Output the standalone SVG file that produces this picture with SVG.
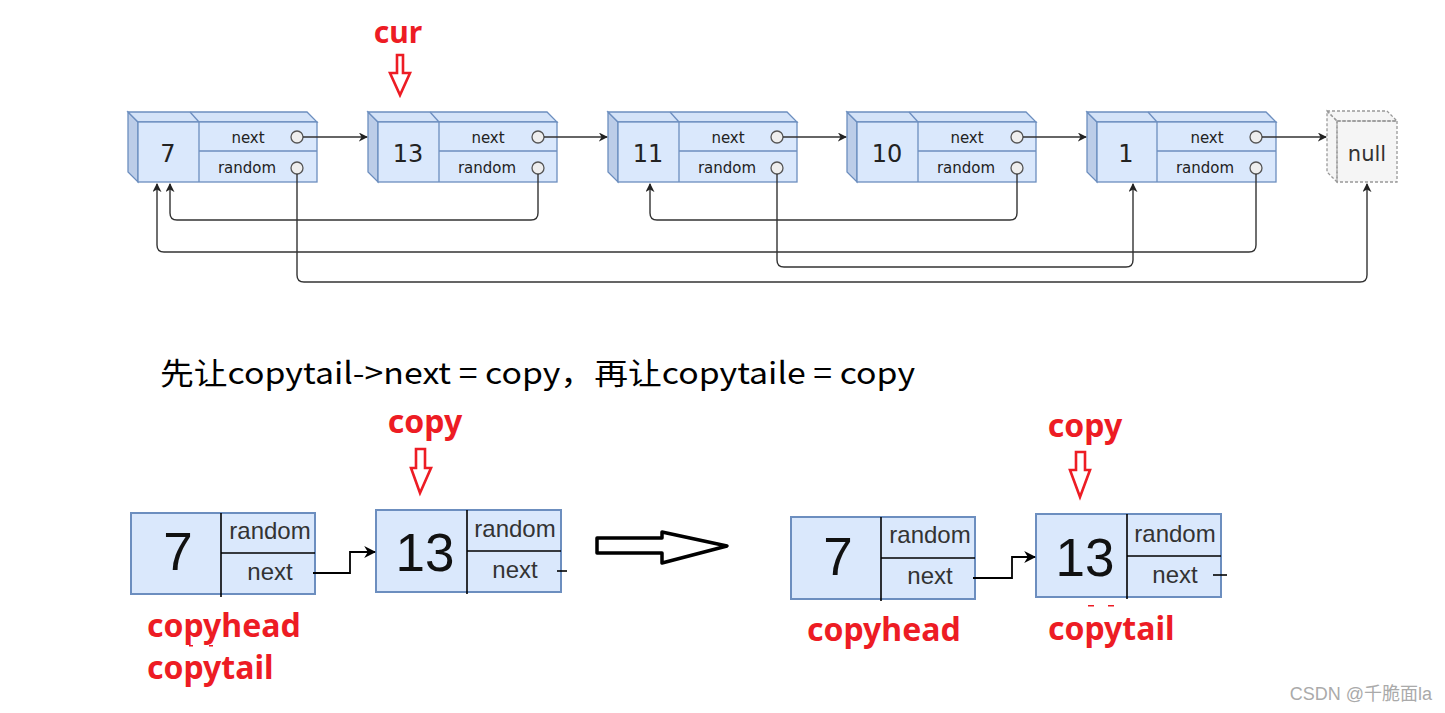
<svg xmlns="http://www.w3.org/2000/svg" width="1445" height="713" viewBox="0 0 1445 713">
<defs>
<style>
.face{fill:#dae8fc;stroke:#6c8ebf;stroke-width:1.3}
.top{fill:#d4e3f8;stroke:#6c8ebf;stroke-width:1.3}
.side{fill:#bccde8;stroke:#6c8ebf;stroke-width:1.3}
.ln{stroke:#6c8ebf;stroke-width:1.3;fill:none}
.pt{fill:#eeeeee;stroke:#555;stroke-width:1.3}
.lbl{font-family:"DejaVu Sans",sans-serif;font-size:15px;fill:#222;text-anchor:middle}
.num{font-family:"DejaVu Sans",sans-serif;font-size:24px;fill:#222;text-anchor:middle}
.conn{fill:none;stroke:#333;stroke-width:1.4}
.red{font-family:"Noto Sans","Noto Sans CJK SC",sans-serif;font-weight:bold;fill:#ed1c24}
.rarrow{fill:#fff;stroke:#ed1c24;stroke-width:2.6;stroke-linejoin:miter}
.bnode{fill:#dae8fc;stroke:#6c8ebf;stroke-width:2}
.bl{stroke:#000;stroke-width:1.6}
.bnum{font-family:"Liberation Sans",Arial,sans-serif;font-size:53px;fill:#111;text-anchor:middle}
.bt{font-family:"Liberation Sans",Arial,sans-serif;font-size:24px;fill:#333;text-anchor:middle}
.bc{fill:none;stroke:#000;stroke-width:1.8}
</style>
<marker id="ah" viewBox="0 0 10 10" refX="9" refY="5" markerWidth="9" markerHeight="9" markerUnits="userSpaceOnUse" orient="auto">
<path d="M0,0 L10,5 L0,10 L3,5 z" fill="#222"/>
</marker>
<marker id="ah2" viewBox="0 0 10 10" refX="9" refY="5" markerWidth="12" markerHeight="14" markerUnits="userSpaceOnUse" orient="auto">
<path d="M0,0 L10,5 L0,10 L3,5 z" fill="#000"/>
</marker>
</defs>
<rect width="1445" height="713" fill="#fff"/>

<!-- top list nodes -->
<g id="node-7">
<polygon class="side" points="128,112 138,122 138,182 128,172"/>
<polygon class="top" points="128,112 307,112 317,122 138,122"/>
<line class="ln" x1="199" y1="122" x2="190" y2="112"/>
<rect class="face" x="138" y="122" width="179" height="60"/>
<line class="ln" x1="199" y1="122" x2="199" y2="182"/>
<line class="ln" x1="199" y1="151" x2="317" y2="151"/>
<circle class="pt" cx="297" cy="137" r="6"/>
<circle class="pt" cx="297" cy="168" r="6"/>
<text class="num" x="168" y="162">7</text>
<text class="lbl" x="248" y="143">next</text>
<text class="lbl" x="247" y="173">random</text>
</g>
<g id="node-13">
<polygon class="side" points="368,112 378,122 378,182 368,172"/>
<polygon class="top" points="368,112 547,112 557,122 378,122"/>
<line class="ln" x1="439" y1="122" x2="430" y2="112"/>
<rect class="face" x="378" y="122" width="179" height="60"/>
<line class="ln" x1="439" y1="122" x2="439" y2="182"/>
<line class="ln" x1="439" y1="151" x2="557" y2="151"/>
<circle class="pt" cx="538" cy="137" r="6"/>
<circle class="pt" cx="538" cy="168" r="6"/>
<text class="num" x="408" y="162">13</text>
<text class="lbl" x="488" y="143">next</text>
<text class="lbl" x="487" y="173">random</text>
</g>
<g id="node-11">
<polygon class="side" points="608,112 618,122 618,182 608,172"/>
<polygon class="top" points="608,112 787,112 797,122 618,122"/>
<line class="ln" x1="679" y1="122" x2="670" y2="112"/>
<rect class="face" x="618" y="122" width="179" height="60"/>
<line class="ln" x1="679" y1="122" x2="679" y2="182"/>
<line class="ln" x1="679" y1="151" x2="797" y2="151"/>
<circle class="pt" cx="777" cy="137" r="6"/>
<circle class="pt" cx="777" cy="168" r="6"/>
<text class="num" x="648" y="162">11</text>
<text class="lbl" x="728" y="143">next</text>
<text class="lbl" x="727" y="173">random</text>
</g>
<g id="node-10">
<polygon class="side" points="847,112 857,122 857,182 847,172"/>
<polygon class="top" points="847,112 1026,112 1036,122 857,122"/>
<line class="ln" x1="918" y1="122" x2="909" y2="112"/>
<rect class="face" x="857" y="122" width="179" height="60"/>
<line class="ln" x1="918" y1="122" x2="918" y2="182"/>
<line class="ln" x1="918" y1="151" x2="1036" y2="151"/>
<circle class="pt" cx="1017" cy="137" r="6"/>
<circle class="pt" cx="1017" cy="168" r="6"/>
<text class="num" x="887" y="162">10</text>
<text class="lbl" x="967" y="143">next</text>
<text class="lbl" x="966" y="173">random</text>
</g>
<g id="node-1">
<polygon class="side" points="1087,112 1097,122 1097,182 1087,172"/>
<polygon class="top" points="1087,112 1266,112 1276,122 1097,122"/>
<line class="ln" x1="1157" y1="122" x2="1148" y2="112"/>
<rect class="face" x="1097" y="122" width="179" height="60"/>
<line class="ln" x1="1157" y1="122" x2="1157" y2="182"/>
<line class="ln" x1="1157" y1="151" x2="1276" y2="151"/>
<circle class="pt" cx="1256" cy="137" r="6"/>
<circle class="pt" cx="1256" cy="168" r="6"/>
<text class="num" x="1126" y="162">1</text>
<text class="lbl" x="1207" y="143">next</text>
<text class="lbl" x="1205" y="173">random</text>
</g>
<g id="node-null">
<polygon points="1327,111 1387,111 1397,121 1397,182 1337,182 1327,172" fill="#f5f5f5"/>
<g fill="none" stroke="#999" stroke-width="1.3" stroke-dasharray="3,2">
<polygon points="1327,111 1337,121 1337,182 1327,172"/>
<polygon points="1327,111 1387,111 1397,121 1337,121"/>
<rect x="1337" y="121" width="60" height="61"/>
</g>
<text x="1367" y="161" font-family="DejaVu Sans,sans-serif" font-size="21" fill="#333" text-anchor="middle">null</text>
</g>

<!-- top connectors -->
<g id="connectors-top">
<path class="conn" marker-end="url(#ah)" d="M303,137 H367"/>
<path class="conn" marker-end="url(#ah)" d="M544,137 H607"/>
<path class="conn" marker-end="url(#ah)" d="M783,137 H846"/>
<path class="conn" marker-end="url(#ah)" d="M1023,137 H1086"/>
<path class="conn" marker-end="url(#ah)" d="M1262,137 H1326"/>
<path class="conn" marker-end="url(#ah)" d="M538,174 V213 Q538,220 531,220 H177 Q170,220 170,213 V184"/>
<path class="conn" marker-end="url(#ah)" d="M1256,174 V245 Q1256,252 1249,252 H164 Q157,252 157,245 V184"/>
<path class="conn" marker-end="url(#ah)" d="M1017,174 V213 Q1017,220 1010,220 H657 Q650,220 650,213 V184"/>
<path class="conn" marker-end="url(#ah)" d="M777,174 V260 Q777,267 784,267 H1126 Q1133,267 1133,260 V184"/>
<path class="conn" marker-end="url(#ah)" d="M297,174 V275 Q297,282 304,282 H1360 Q1367,282 1367,275 V184"/>
</g>

<!-- cur pointer -->
<g id="cur-label">
<text class="red" x="398" y="43" font-size="30" text-anchor="middle">cur</text>
<polygon class="rarrow" points="397,55 403,55 403,73 410,73 400,95 390,73 397,73"/>
</g>

<text x="160" y="384" font-family="Noto Sans CJK SC,Noto Sans,sans-serif" font-size="30" fill="#000" textLength="755" lengthAdjust="spacingAndGlyphs">先让copytail-&gt;next = copy，再让copytaile = copy</text>

<!-- bottom left -->
<g id="copy-label-left">
<text class="red" x="425" y="433" font-size="32" text-anchor="middle">copy</text>
<polygon class="rarrow" points="416,449 425,449 425,468 431,468 420,493 411,468 416,468"/>
</g>
<g id="bnode-7a">
<rect class="bnode" x="131" y="513" width="184" height="81"/>
<line class="bl" x1="221" y1="513" x2="221" y2="597"/>
<line class="bl" x1="221" y1="553" x2="315" y2="553"/>
<text class="bnum" x="178" y="570">7</text>
<text class="bt" x="270" y="539">random</text>
<text class="bt" x="270" y="580">next</text>
</g>
<g id="bnode-13a">
<rect class="bnode" x="376" y="510" width="185" height="82"/>
<line class="bl" x1="467" y1="510" x2="467" y2="594"/>
<line class="bl" x1="467" y1="551" x2="561" y2="551"/>
<text class="bnum" x="425" y="571">13</text>
<text class="bt" x="515" y="537">random</text>
<text class="bt" x="515" y="578">next</text>
<line class="bl" x1="557" y1="571" x2="567" y2="571"/>
</g>
<g id="labels-left">
<text class="red" x="147" y="637" font-size="32">copyhead</text>
<text class="red" x="147" y="679" font-size="32">copytail</text>
<rect x="189" y="645" width="4" height="1.5" fill="#ed1c24"/>
<rect x="209" y="645" width="4" height="1.5" fill="#ed1c24"/>
</g>

<!-- transition arrow -->
<g id="big-arrow">
<polygon points="597,538 662,538 662,532 727,546 662,563 662,553 597,553" fill="#fff" stroke="#000" stroke-width="3.5" stroke-linejoin="round"/>
</g>

<!-- bottom right -->
<g id="copy-label-right">
<text class="red" x="1085" y="437" font-size="32" text-anchor="middle">copy</text>
<polygon class="rarrow" points="1076,452 1085,452 1085,470 1090,470 1080,497 1070,470 1076,470"/>
</g>
<g id="bnode-7b">
<rect class="bnode" x="791" y="517" width="184" height="82"/>
<line class="bl" x1="881" y1="517" x2="881" y2="601"/>
<line class="bl" x1="881" y1="558" x2="975" y2="558"/>
<text class="bnum" x="838" y="575">7</text>
<text class="bt" x="930" y="543">random</text>
<text class="bt" x="930" y="584">next</text>
</g>
<g id="bnode-13b">
<rect class="bnode" x="1036" y="514" width="185" height="83"/>
<line class="bl" x1="1127" y1="514" x2="1127" y2="599"/>
<line class="bl" x1="1127" y1="556" x2="1221" y2="556"/>
<text class="bnum" x="1085" y="576">13</text>
<text class="bt" x="1175" y="542">random</text>
<text class="bt" x="1175" y="583">next</text>
<line class="bl" x1="1213" y1="575" x2="1227" y2="575"/>
</g>
<g id="labels-right">
<text class="red" x="807" y="641" font-size="32">copyhead</text>
<text class="red" x="1048" y="640" font-size="32">copytail</text>
<rect x="1088" y="605" width="6" height="1.5" fill="#ed1c24"/>
<rect x="1108" y="605" width="6" height="1.5" fill="#ed1c24"/>
</g>

<!-- bottom connectors -->
<g id="connectors-bottom">
<path class="bc" marker-end="url(#ah2)" d="M313,573 H350 V552 H375"/>
<path class="bc" marker-end="url(#ah2)" d="M973,578 H1012 V557 H1035"/>
</g>

<text x="1432" y="700" font-family="Liberation Sans,Noto Sans CJK SC,sans-serif" font-size="18" fill="#aaa" text-anchor="end">CSDN @千脆面la</text>
</svg>
